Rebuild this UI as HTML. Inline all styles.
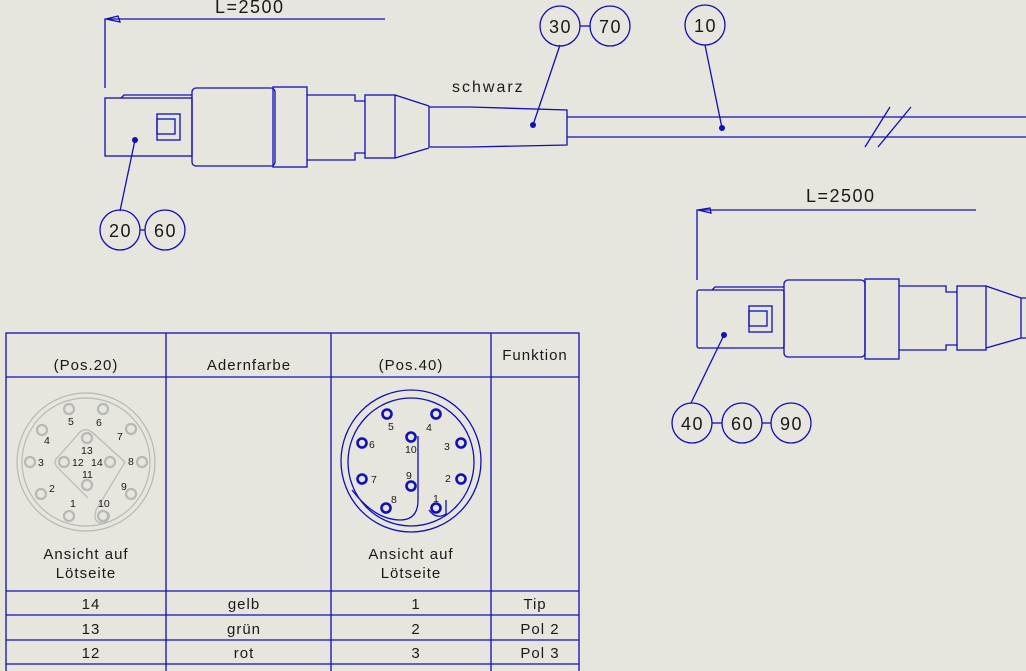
<!DOCTYPE html>
<html><head><meta charset="utf-8"><style>
html,body{margin:0;padding:0;background:#e6e5de;}
svg{display:block;}
text{font-family:"Liberation Sans",sans-serif;fill:#1a1a1a;}
</style></head><body>
<svg width="1026" height="671" viewBox="0 0 1026 671" xmlns="http://www.w3.org/2000/svg">
<rect width="1026" height="671" fill="#e6e5de"/>
<g stroke="#1010b8" stroke-width="1.3" fill="none">
<!-- top dimension -->
<polyline points="105,88 105,19 385,19"/>
<path d="M106,19 L118,16 L120,22 Z"/>
<!-- top connector -->
<rect x="105" y="98" width="87" height="58"/>
<polyline points="121,98 124,95 192,95"/>
<rect x="157" y="114" width="23" height="26"/>
<rect x="157" y="119" width="18" height="15"/>
<rect x="192" y="88" width="83" height="78" rx="4"/>
<rect x="273" y="87" width="34" height="80"/>
<polyline points="307,95 355,95 355,101 365,101"/>
<polyline points="307,160 355,160 355,153 365,153"/>
<rect x="365" y="95" width="30" height="63"/>
<polyline points="395,95 429,106"/>
<polyline points="395,158 429,148"/>
<polyline points="429,106 429,147"/>
<polyline points="429,107 470,107 567,110 567,145 470,147 429,147"/>
<line x1="567" y1="117" x2="1026" y2="117"/>
<line x1="567" y1="137" x2="1026" y2="137"/>
<line x1="865" y1="147" x2="890" y2="107"/>
<line x1="878" y1="147" x2="911" y2="107"/>
<!-- leaders -->
<line x1="135" y1="140" x2="120" y2="211"/>
<line x1="533" y1="125" x2="560" y2="45"/>
<line x1="722" y1="128" x2="705" y2="45"/>
<!-- balloons -->
<circle cx="120" cy="230" r="20"/><circle cx="165" cy="230" r="20"/><line x1="140" y1="230" x2="145" y2="230"/>
<circle cx="560" cy="26" r="20"/><circle cx="610" cy="26" r="20"/><line x1="580" y1="26" x2="590" y2="26"/>
<circle cx="705" cy="25" r="20"/>
<circle cx="692" cy="423" r="20"/><circle cx="742" cy="423" r="20"/><circle cx="791" cy="423" r="20"/>
<line x1="712" y1="423" x2="722" y2="423"/><line x1="762" y1="423" x2="771" y2="423"/>
<!-- second dim -->
<polyline points="697,280 697,210 976,210"/>
<path d="M698,210 L710,208 L711,213 Z"/>
<!-- second connector -->
<rect x="697" y="290" width="87" height="58" rx="2"/>
<polyline points="712,290 715,287 784,287"/>
<rect x="749" y="306" width="23" height="26"/>
<rect x="749" y="311" width="18" height="15"/>
<rect x="784" y="280" width="81" height="77" rx="4"/>
<rect x="865" y="279" width="34" height="80"/>
<polyline points="899,286 946,286 946,292 957,292"/>
<polyline points="899,350 946,350 946,345 957,345"/>
<rect x="957" y="286" width="29" height="64"/>
<polyline points="986,286 1021,298 1026,298"/>
<polyline points="986,348 1021,338 1026,338"/>
<line x1="1021" y1="298" x2="1021" y2="338"/>
<line x1="724" y1="335" x2="691" y2="403"/>
<!-- table -->
<rect x="6" y="333" width="573" height="340"/>
<line x1="166" y1="333" x2="166" y2="671"/>
<line x1="331" y1="333" x2="331" y2="671"/>
<line x1="491" y1="333" x2="491" y2="671"/>
<line x1="6" y1="377" x2="579" y2="377"/>
<line x1="6" y1="591" x2="579" y2="591"/>
<line x1="6" y1="615" x2="579" y2="615"/>
<line x1="6" y1="640" x2="579" y2="640"/>
<line x1="6" y1="664" x2="579" y2="664"/>
<!-- right pin diagram -->
<ellipse cx="411" cy="461" rx="70" ry="71"/>
<ellipse cx="411" cy="462" rx="63" ry="64"/>
<path d="M418,436 L418,500 Q418,520 400,520 Q375,520 352,490"/>
<path d="M429,510 Q436,520 446,514 L446,500"/>
</g>
<g fill="#1010b8">
<circle cx="135" cy="140" r="3"/><circle cx="533" cy="125" r="3"/><circle cx="722" cy="128" r="3"/><circle cx="724" cy="335" r="3"/>
</g>
<!-- left pin diagram (gray) -->
<g stroke="#b8b8b4" stroke-width="1.2" fill="none">
<ellipse cx="86" cy="462" rx="69" ry="69"/>
<ellipse cx="86" cy="462" rx="64" ry="64"/>
<path d="M80,432 Q86,427 93,433 L125,462 L96,510 Q92,524 104,523 Q112,518 108,512"/>
<path d="M80,432 L58,457 Q52,462 58,468 L88,498"/>
</g>
<g stroke="#b8b8b4" stroke-width="2.2" fill="none">
<circle cx="69" cy="409" r="5"/><circle cx="103" cy="409" r="5"/><circle cx="131" cy="429" r="5"/><circle cx="142" cy="462" r="5"/><circle cx="131" cy="494" r="5"/><circle cx="103" cy="516" r="5"/><circle cx="69" cy="516" r="5"/><circle cx="41" cy="494" r="5"/><circle cx="30" cy="462" r="5"/><circle cx="42" cy="430" r="5"/>
<circle cx="87" cy="438" r="5"/><circle cx="64" cy="462" r="5"/><circle cx="110" cy="462" r="5"/><circle cx="87" cy="485" r="5"/>
</g>
<g font-size="10.5">
<text x="68" y="425">5</text><text x="96" y="426">6</text><text x="117" y="440">7</text><text x="128" y="465">8</text><text x="121" y="490">9</text><text x="98" y="507">10</text><text x="70" y="507">1</text><text x="49" y="492">2</text><text x="38" y="466">3</text><text x="44" y="444">4</text>
<text x="81" y="454">13</text><text x="72" y="466">12</text><text x="91" y="466">14</text><text x="82" y="478">11</text>
</g>
<g stroke="#1010b8" stroke-width="2.6" fill="none">
<circle cx="387" cy="414" r="4.5"/><circle cx="436" cy="414" r="4.5"/><circle cx="362" cy="443" r="4.5"/><circle cx="461" cy="443" r="4.5"/><circle cx="362" cy="479" r="4.5"/><circle cx="461" cy="479" r="4.5"/><circle cx="386" cy="508" r="4.5"/><circle cx="436" cy="508" r="4.5"/><circle cx="411" cy="437" r="4.5"/><circle cx="411" cy="486" r="4.5"/>
</g>
<g font-size="10.5">
<text x="388" y="430">5</text><text x="426" y="431">4</text><text x="369" y="448">6</text><text x="444" y="450">3</text><text x="371" y="483">7</text><text x="445" y="482">2</text><text x="391" y="503">8</text><text x="433" y="502">1</text><text x="405" y="453">10</text><text x="406" y="479">9</text>
</g>
<!-- texts -->
<g font-size="18" letter-spacing="1.5">
<text x="215" y="13">L=2500</text>
<text x="806" y="202">L=2500</text>
<text x="109" y="237">20</text><text x="154" y="237">60</text>
<text x="549" y="33">30</text><text x="599" y="33">70</text>
<text x="694" y="32">10</text>
<text x="681" y="430">40</text><text x="731" y="430">60</text><text x="780" y="430">90</text>
</g>
<text x="452" y="92" font-size="16" letter-spacing="2">schwarz</text>
<g font-size="15" letter-spacing="1" text-anchor="middle">
<text x="86" y="370">(Pos.20)</text>
<text x="249" y="370">Adernfarbe</text>
<text x="411" y="370">(Pos.40)</text>
<text x="535" y="360">Funktion</text>
<text x="86" y="559">Ansicht auf</text><text x="86" y="578">Lötseite</text>
<text x="411" y="559">Ansicht auf</text><text x="411" y="578">Lötseite</text>
<text x="91" y="609">14</text><text x="244" y="609">gelb</text><text x="416" y="609">1</text><text x="535" y="609">Tip</text>
<text x="91" y="634">13</text><text x="244" y="634">grün</text><text x="416" y="634">2</text><text x="540" y="634">Pol 2</text>
<text x="91" y="658">12</text><text x="244" y="658">rot</text><text x="416" y="658">3</text><text x="540" y="658">Pol 3</text>
</g>
</svg>
</body></html>
